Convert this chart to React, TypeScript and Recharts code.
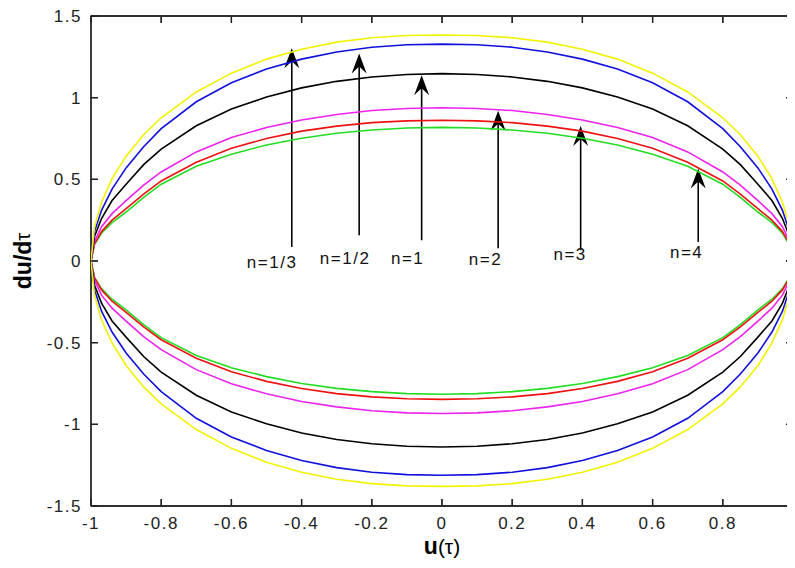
import React from 'react';
import { ComposedChart, Scatter, XAxis, YAxis, ReferenceLine, ReferenceDot, ReferenceArea, CartesianGrid } from 'recharts';

const FONT = '"Liberation Sans", Arial, Helvetica, sans-serif';

// sampled u values (left to right)
const U = [-1, -0.99, -0.97, -0.94, -0.9, -0.85, -0.8, -0.7, -0.6, -0.5, -0.4, -0.3, -0.2, -0.1, 0, 0.1, 0.2, 0.3, 0.4, 0.5, 0.6, 0.7, 0.8, 0.85, 0.9, 0.94, 0.97, 0.99, 1];

// n = 1/3 (yellow)
const YELLOW_UP = [0, 0.209, 0.360, 0.504, 0.642, 0.773, 0.877, 1.035, 1.150, 1.236, 1.297, 1.340, 1.367, 1.381, 1.384, 1.381, 1.367, 1.340, 1.297, 1.236, 1.150, 1.035, 0.877, 0.773, 0.642, 0.504, 0.360, 0.209, 0];
const YELLOW_LOW = [0, -0.208, -0.359, -0.502, -0.640, -0.771, -0.875, -1.032, -1.147, -1.232, -1.293, -1.336, -1.363, -1.377, -1.380, -1.377, -1.363, -1.336, -1.293, -1.232, -1.147, -1.032, -0.875, -0.771, -0.640, -0.502, -0.359, -0.208, 0];
// n = 1/2 (blue)
const BLUE_UP = [0, 0.180, 0.310, 0.440, 0.570, 0.700, 0.810, 0.975, 1.091, 1.175, 1.236, 1.280, 1.309, 1.324, 1.328, 1.324, 1.309, 1.280, 1.236, 1.175, 1.091, 0.975, 0.810, 0.700, 0.570, 0.440, 0.310, 0.180, 0];
const BLUE_LOW = [0, -0.178, -0.307, -0.435, -0.563, -0.692, -0.800, -0.963, -1.078, -1.160, -1.221, -1.265, -1.293, -1.308, -1.312, -1.308, -1.293, -1.265, -1.221, -1.160, -1.078, -0.963, -0.800, -0.692, -0.563, -0.435, -0.307, -0.178, 0];
// n = 1 (black)
const BLACK_UP = [0, 0.150, 0.260, 0.370, 0.470, 0.590, 0.685, 0.828, 0.930, 1.004, 1.060, 1.100, 1.127, 1.142, 1.147, 1.142, 1.127, 1.100, 1.060, 1.004, 0.930, 0.828, 0.685, 0.590, 0.470, 0.370, 0.260, 0.150, 0];
const BLACK_LOW = [0, -0.149, -0.258, -0.367, -0.466, -0.585, -0.680, -0.822, -0.924, -0.997, -1.053, -1.093, -1.119, -1.134, -1.139, -1.134, -1.119, -1.093, -1.053, -0.997, -0.924, -0.822, -0.680, -0.585, -0.466, -0.367, -0.258, -0.149, 0];
// n = 2 (magenta)
const MAGENTA_UP = [0, 0.120, 0.210, 0.290, 0.370, 0.465, 0.545, 0.668, 0.756, 0.817, 0.863, 0.897, 0.921, 0.934, 0.938, 0.934, 0.921, 0.897, 0.863, 0.817, 0.756, 0.668, 0.545, 0.465, 0.370, 0.290, 0.210, 0.120, 0];
const MAGENTA_LOW = [0, -0.119, -0.209, -0.289, -0.368, -0.463, -0.543, -0.665, -0.752, -0.813, -0.860, -0.893, -0.917, -0.930, -0.934, -0.930, -0.917, -0.893, -0.860, -0.813, -0.752, -0.665, -0.543, -0.463, -0.368, -0.289, -0.209, -0.119, 0];
// n = 3 (red)
const RED_UP = [0, 0.105, 0.180, 0.250, 0.320, 0.410, 0.490, 0.605, 0.690, 0.750, 0.795, 0.826, 0.847, 0.858, 0.862, 0.858, 0.847, 0.826, 0.795, 0.750, 0.690, 0.605, 0.490, 0.410, 0.320, 0.250, 0.180, 0.105, 0];
const RED_LOW = [0, -0.103, -0.177, -0.246, -0.315, -0.403, -0.482, -0.595, -0.678, -0.737, -0.781, -0.812, -0.832, -0.843, -0.847, -0.843, -0.832, -0.812, -0.781, -0.737, -0.678, -0.595, -0.482, -0.403, -0.315, -0.246, -0.177, -0.103, 0];
// n = 4 (green)
const GREEN_UP = [0, 0.100, 0.170, 0.235, 0.300, 0.390, 0.470, 0.580, 0.654, 0.710, 0.752, 0.782, 0.802, 0.814, 0.818, 0.814, 0.802, 0.782, 0.752, 0.710, 0.654, 0.580, 0.470, 0.390, 0.300, 0.235, 0.170, 0.100, 0];
const GREEN_LOW = [0, -0.100, -0.169, -0.234, -0.299, -0.389, -0.469, -0.579, -0.653, -0.708, -0.750, -0.780, -0.800, -0.812, -0.816, -0.812, -0.800, -0.780, -0.750, -0.708, -0.653, -0.579, -0.469, -0.389, -0.299, -0.234, -0.169, -0.100, 0];

const X_TICKS = [-1, -0.8, -0.6, -0.4, -0.2, 0, 0.2, 0.4, 0.6, 0.8, 1];
const Y_TICKS = [-1.5, -1, -0.5, 0, 0.5, 1, 1.5];
const X_DOMAIN = [-1, 1];
const Y_DOMAIN = [-1.5, 1.5];

// annotation arrows
const ARROW_LABELS = ['n=1/3', 'n=1/2', 'n=1', 'n=2', 'n=3', 'n=4'];
const ARROW_X = [-0.428, -0.236, -0.058, 0.16, 0.395, 0.73];
const ARROW_TIP = [1.302, 1.271, 1.138, 0.92, 0.826, 0.567];
const ARROW_TAIL = [0.086, 0.158, 0.127, 0.078, 0.066, 0.117];
const LABEL_X = [-0.484, -0.276, -0.098, 0.124, 0.365, 0.697];
const LABEL_Y = [-0.007, 0.017, 0.017, 0.011, 0.042, 0.054];

const SERIES = [
  { name: 'n=4', color: '#22dd22', up: GREEN_UP, low: GREEN_LOW },
  { name: 'n=3', color: '#ee1111', up: RED_UP, low: RED_LOW },
  { name: 'n=2', color: '#ee22ee', up: MAGENTA_UP, low: MAGENTA_LOW },
  { name: 'n=1', color: '#000000', up: BLACK_UP, low: BLACK_LOW },
  { name: 'n=1/2', color: '#1010dd', up: BLUE_UP, low: BLUE_LOW },
  { name: 'n=1/3', color: '#f2f200', up: YELLOW_UP, low: YELLOW_LOW },
];

// layout
const CHART_W = 787;
const CHART_H = 560;
const MARGIN = { top: 8, right: 2, bottom: 0, left: 0 };
const Y_AXIS_W = 83;
const X_AXIS_H = 62;
const PLOT_W = CHART_W - MARGIN.left - MARGIN.right - Y_AXIS_W;
const PLOT_H = CHART_H - MARGIN.top - MARGIN.bottom - X_AXIS_H;
const TICK_SIZE = 7;
const X_TICK_MARGIN = 4;
const Y_TICK_MARGIN = 2;
const TICK_LEN = 7;

const AXIS_COLOR = '#222222';
const AXIS_LINE = { stroke: AXIS_COLOR, strokeWidth: 1.3 };

function loop(up: number[], low: number[]) {
  const pts = U.map((x, i) => ({ x, y: up[i] }));
  for (let i = U.length - 1; i >= 0; i--) pts.push({ x: U[i], y: low[i] });
  return pts;
}

const textProps = { fontSize: 17, fill: '#222', fontFamily: FONT, letterSpacing: 1.5 };

// x tick: label + inward tick marks at the bottom and top edges, right frame edge at the last tick
const XTick = (props: any) => {
  const { x, y, payload } = props;
  const axisY = y - TICK_SIZE - X_TICK_MARGIN;
  const topY = axisY - PLOT_H;
  const isLast = payload.value === X_DOMAIN[1];
  return (
    <g>
      <line x1={x} y1={axisY} x2={x} y2={axisY - TICK_LEN} stroke={AXIS_COLOR} strokeWidth={1.3} />
      <line x1={x} y1={topY} x2={x} y2={topY + TICK_LEN} stroke={AXIS_COLOR} strokeWidth={1.3} />
      {isLast ? <line x1={x} y1={axisY} x2={x} y2={topY} stroke={AXIS_COLOR} strokeWidth={1.3} /> : null}
      <text x={x} y={y} dy="0.71em" textAnchor="middle" {...textProps}>
        {String(payload.value)}
      </text>
    </g>
  );
};

// y tick: label + inward tick marks at the left and right edges, top frame edge at the last tick
const YTick = (props: any) => {
  const { x, y, payload } = props;
  const axisX = x + TICK_SIZE + Y_TICK_MARGIN;
  const rightX = axisX + PLOT_W;
  const isTop = payload.value === Y_DOMAIN[1];
  return (
    <g>
      <line x1={axisX} y1={y} x2={axisX + TICK_LEN} y2={y} stroke={AXIS_COLOR} strokeWidth={1.3} />
      <line x1={rightX} y1={y} x2={rightX - TICK_LEN} y2={y} stroke={AXIS_COLOR} strokeWidth={1.3} />
      {isTop ? <line x1={axisX} y1={y} x2={rightX} y2={y} stroke={AXIS_COLOR} strokeWidth={1.3} /> : null}
      <text x={x} y={y} dy="0.355em" textAnchor="end" {...textProps}>
        {String(payload.value)}
      </text>
    </g>
  );
};

// grid shapes: only short inward ticks at both ends of each grid line
const hGridTick = (p: any) => (
  <g key={p.key}>
    <line x1={p.x1} y1={p.y1} x2={p.x1 + TICK_LEN} y2={p.y1} stroke={AXIS_COLOR} strokeWidth={1.3} />
    <line x1={p.x2} y1={p.y2} x2={p.x2 - TICK_LEN} y2={p.y2} stroke={AXIS_COLOR} strokeWidth={1.3} />
  </g>
);
const vGridTick = (p: any) => {
  const top = Math.min(p.y1, p.y2);
  const bot = Math.max(p.y1, p.y2);
  return (
    <g key={p.key}>
      <line x1={p.x1} y1={top} x2={p.x1} y2={top + TICK_LEN} stroke={AXIS_COLOR} strokeWidth={1.3} />
      <line x1={p.x1} y1={bot} x2={p.x1} y2={bot - TICK_LEN} stroke={AXIS_COLOR} strokeWidth={1.3} />
    </g>
  );
};

const noShape = () => <g />;

const arrowShape = (p: any) => {
  const { x1, y1, x2, y2 } = p;
  return (
    <g>
      <line x1={x1} y1={y1} x2={x2} y2={y2 + 10} stroke="#000" strokeWidth={1.6} />
      <path d={`M${x2},${y2} L${x2 + 7.5},${y2 + 20} L${x2},${y2 + 13} L${x2 - 7.5},${y2 + 20} Z`} fill="#000" />
    </g>
  );
};

const makeLabel = (text: string) => (p: any) => (
  <text x={p.cx} y={p.cy} textAnchor="middle" dominantBaseline="central" fontFamily={FONT} fontSize={17} letterSpacing={1.5} fill="#111">
    {text}
  </text>
);

const YLabel = (props: any) => {
  const vb = props.viewBox || { x: 0, y: MARGIN.top, width: Y_AXIS_W, height: PLOT_H };
  const cx = vb.x + 15;
  const cy = vb.y + vb.height / 2;
  return (
    <text x={cx} y={cy} transform={`rotate(-90 ${cx} ${cy})`} textAnchor="middle" dominantBaseline="central" fontFamily={FONT} fill="#000">
      <tspan fontWeight="bold" fontSize={23}>du/d</tspan>
      <tspan fontSize={20}>τ</tspan>
    </text>
  );
};

const XLabel = (props: any) => {
  const vb = props.viewBox || { x: Y_AXIS_W, y: MARGIN.top + PLOT_H, width: PLOT_W, height: X_AXIS_H };
  const cx = vb.x + vb.width / 2;
  const cy = vb.y + 48;
  return (
    <text x={cx} y={cy} textAnchor="middle" fontFamily={FONT} fill="#000">
      <tspan fontWeight="bold" fontSize={23}>u</tspan>
      <tspan fontSize={21}>(τ)</tspan>
    </text>
  );
};

export default function App() {
  return (
    <div style={{ width: CHART_W, height: CHART_H, background: '#fff' }}>
      <ComposedChart width={CHART_W} height={CHART_H} margin={MARGIN}>
        <CartesianGrid xAxisId="b" yAxisId="l" horizontal={hGridTick} vertical={vGridTick} />
        <XAxis
          xAxisId="b"
          type="number"
          dataKey="x"
          domain={X_DOMAIN}
          ticks={X_TICKS}
          interval={0}
          allowDataOverflow
          height={X_AXIS_H}
          tickLine={false}
          tickSize={TICK_SIZE}
          tickMargin={X_TICK_MARGIN}
          axisLine={AXIS_LINE}
          tick={<XTick />}
          label={<XLabel />}
        />
        <YAxis
          yAxisId="l"
          type="number"
          dataKey="y"
          domain={Y_DOMAIN}
          ticks={Y_TICKS}
          interval={0}
          allowDataOverflow
          width={Y_AXIS_W}
          tickLine={false}
          tickSize={TICK_SIZE}
          tickMargin={Y_TICK_MARGIN}
          axisLine={AXIS_LINE}
          tick={<YTick />}
          label={<YLabel />}
        />
        {/* plot frame (box on) */}
        <ReferenceArea
          xAxisId="b"
          yAxisId="l"
          x1={X_DOMAIN[0]}
          x2={X_DOMAIN[1]}
          y1={Y_DOMAIN[0]}
          y2={Y_DOMAIN[1]}
          ifOverflow="visible"
          fill="none"
          fillOpacity={0}
          stroke={AXIS_COLOR}
          strokeWidth={1.3}
          strokeOpacity={1}
        />
        {SERIES.map((s) => (
          <Scatter
            key={s.name}
            name={s.name}
            xAxisId="b"
            yAxisId="l"
            data={loop(s.up, s.low)}
            line={{ stroke: s.color, strokeWidth: 1.6 }}
            lineType="joint"
            shape={noShape}
            fill={s.color}
            isAnimationActive={false}
          />
        ))}
        {ARROW_LABELS.map((lab, i) => (
          <ReferenceLine
            key={`a${i}`}
            xAxisId="b"
            yAxisId="l"
            segment={[{ x: ARROW_X[i], y: ARROW_TAIL[i] }, { x: ARROW_X[i], y: ARROW_TIP[i] }]}
            shape={arrowShape}
          />
        ))}
        {ARROW_LABELS.map((lab, i) => (
          <ReferenceDot
            key={`l${i}`}
            xAxisId="b"
            yAxisId="l"
            x={LABEL_X[i]}
            y={LABEL_Y[i]}
            r={0}
            shape={makeLabel(lab)}
          />
        ))}
      </ComposedChart>
    </div>
  );
}
